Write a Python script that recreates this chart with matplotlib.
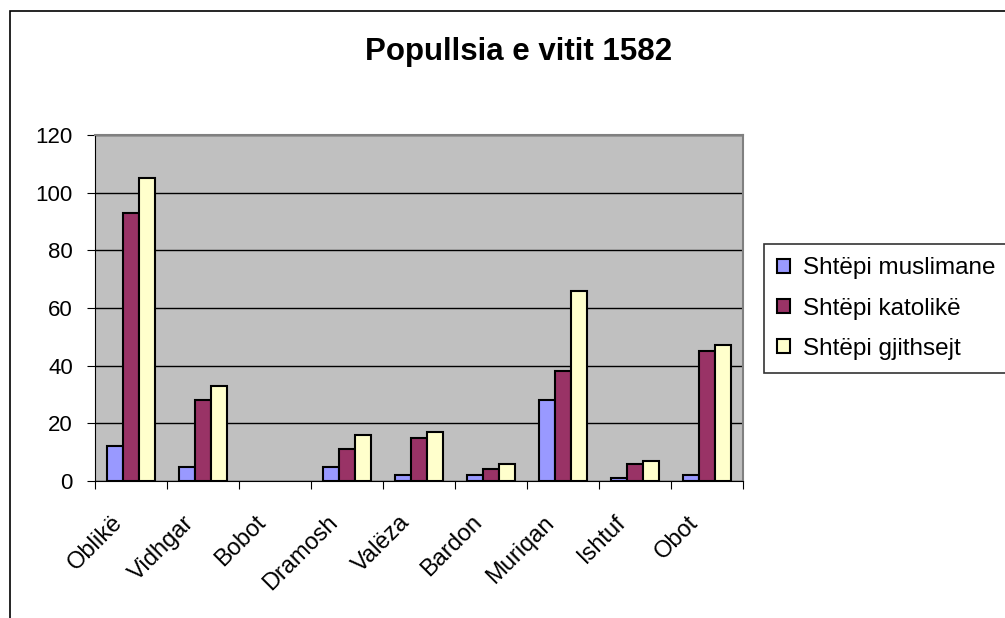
import matplotlib
matplotlib.use('Agg')
import matplotlib.pyplot as plt
import matplotlib.transforms as mtransforms
from matplotlib.patches import Rectangle
import numpy as np

plt.rcParams['font.family'] = ['Liberation Sans', 'DejaVu Sans']

# te dhenat
fshatrat = ['Oblikë', 'Vidhgar', 'Bobot', 'Dramosh', 'Valëza', 'Bardon', 'Muriqan', 'Ishtuf', 'Obot']
muslimane = [12, 5, 0, 5, 2, 2, 28, 1, 2]
katolike = [93, 28, 0, 11, 15, 4, 38, 6, 45]
gjithsejt = [105, 33, 0, 16, 17, 6, 66, 7, 47]
seria = ['Shtëpi muslimane', 'Shtëpi katolikë', 'Shtëpi gjithsejt']
ngjyrat = ['#9999FF', '#993366', '#FFFFCC']

fig = plt.figure(figsize=(10.05, 6.18), dpi=100)
ax = fig.add_axes([95 / 1005, 1 - 481 / 618, 648 / 1005, 346 / 618])
ax.set_facecolor('#C0C0C0')

x = np.arange(len(fshatrat))
w = 0.22
for i, (vals, c, lab) in enumerate(zip([muslimane, katolike, gjithsejt], ngjyrat, seria)):
    lw = [1.5 if v > 0 else 0 for v in vals]
    ax.bar(x + (i - 1) * w, vals, w, color=c, edgecolor='black', linewidth=lw, label=lab, zorder=3)

ax.set_xlim(-0.5, len(fshatrat) - 0.5)
ax.set_ylim(0, 120)
ax.set_yticks(range(0, 121, 20))
ax.yaxis.grid(True, color='black', linewidth=1, zorder=1)
ax.set_axisbelow(True)

ax.set_xticks(np.arange(-0.5, len(fshatrat)), minor=False)
ax.set_xticklabels([])
ax.set_xticks(x, minor=True)
ax.set_xticklabels(fshatrat, minor=True, rotation=45, ha='right', rotation_mode='anchor', fontsize=17)
ax.tick_params(axis='x', which='minor', length=0, pad=22)
ax.tick_params(axis='x', which='major', length=6, direction='out', color='black')
ax.tick_params(axis='y', length=6, direction='out', labelsize=16, pad=10)

zhvendos = mtransforms.ScaledTranslation(-20 / 100, 0, fig.dpi_scale_trans)
for t in ax.get_xticklabels(minor=True):
    t.set_transform(t.get_transform() + zhvendos)

for s in ['top', 'right']:
    ax.spines[s].set_color('#808080')
    ax.spines[s].set_linewidth(1.5)
ax.spines['left'].set_color('black')
ax.spines['bottom'].set_color('black')

fig.text(519 / 1005, 1 - 52 / 618, 'Popullsia e vitit 1582', ha='center', va='center',
         fontsize=22.5, fontweight='bold')

leg = fig.legend(loc='upper left', bbox_to_anchor=(764 / 1005, 1 - 244 / 618), fontsize=17.5,
                 frameon=True, fancybox=False, edgecolor='black', handlelength=0.5, handleheight=0.5,
                 handletextpad=0.55, labelspacing=0.75, borderpad=0.55, borderaxespad=0)
leg.get_frame().set_linewidth(1.2)

# korniza e grafikut
fig.patches.append(Rectangle((10 / 1005, -0.1), 2, 1.1 - 10.5 / 618, transform=fig.transFigure,
                             fill=False, edgecolor='black', linewidth=1.2))

fig.savefig('out.png', dpi=100)
